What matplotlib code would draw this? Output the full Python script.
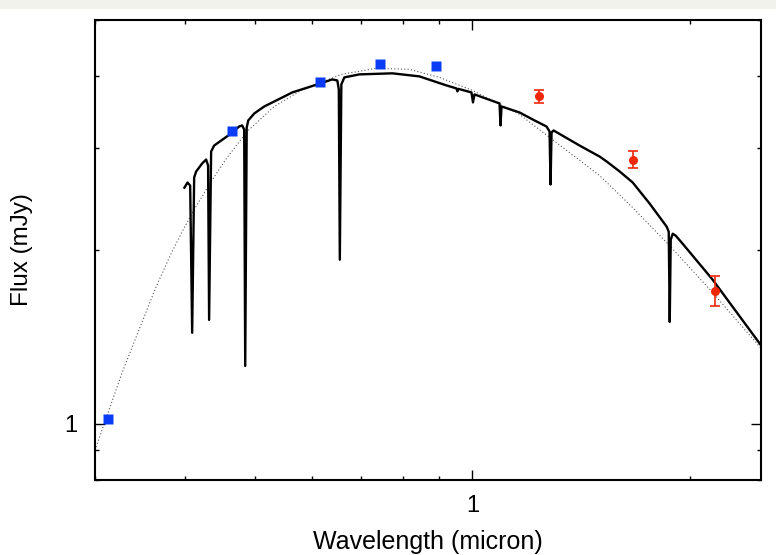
import matplotlib
matplotlib.use('Agg')
import matplotlib.pyplot as plt
from matplotlib import ticker
from matplotlib.patches import Rectangle

plt.rcParams['font.family'] = ['Liberation Sans', 'DejaVu Sans']

# Photometry ================================================================ #
# optical points (blue squares)
opt_wave = [0.3127, 0.4646, 0.6154, 0.7453, 0.8915]
opt_flux = [1.020, 3.207, 3.899, 4.190, 4.157]

# near-IR points with errors (red circles)
ir_wave = [1.235, 1.667, 2.166]
ir_flux = [3.687, 2.868, 1.700]
ir_err = [0.10, 0.095, 0.10]

# Blackbody-like dotted curve =============================================== #
bb_wave = [0.300, 0.3137, 0.3270, 0.3452, 0.3645, 0.3823, 0.3961, 0.4115,
           0.4345, 0.4572, 0.4874, 0.5314, 0.5791, 0.6581, 0.7358, 0.8177,
           0.9000, 1.000, 1.162, 1.279, 1.500, 1.667, 1.876, 2.152, 2.508]
bb_flux = [0.901, 1.057, 1.226, 1.455, 1.727, 1.970, 2.151, 2.349,
           2.627, 2.891, 3.207, 3.543, 3.777, 4.026, 4.125, 4.108,
           3.978, 3.777, 3.432, 3.132, 2.691, 2.368, 2.034, 1.687, 1.354]

# Model spectrum (solid line, with absorption lines) ======================== #
spec_wave = [0.399, 0.403, 0.4064, 0.4090, 0.4116, 0.4142, 0.4221, 0.4276,
             0.4303, 0.4317, 0.4345, 0.4387, 0.4486, 0.4631, 0.4751, 0.4797,
             0.4828, 0.4844, 0.4867, 0.4891, 0.4985, 0.5147, 0.5314, 0.5629,
             0.6095, 0.6394, 0.6498, 0.6529, 0.6550, 0.6582, 0.6645, 0.6971,
             0.7745, 0.8443, 0.9203, 0.9502, 0.9532, 0.9563, 0.9968, 1.0016,
             1.0064, 1.0901, 1.0936, 1.0971, 1.1622, 1.2112, 1.2665, 1.2787,
             1.2828, 1.2869, 1.2951, 1.4075, 1.5002, 1.5345, 1.5995, 1.6672,
             1.7597, 1.8579, 1.8700, 1.8761, 1.8821, 1.8942, 1.9125, 1.9497,
             2.152, 2.508]
spec_flux = [2.564, 2.617, 2.585, 1.438, 2.670, 2.734, 2.822, 2.868,
             2.800, 1.514, 2.961, 3.032, 3.093, 3.181, 3.271, 3.285,
             3.232, 1.260, 3.258, 3.351, 3.445, 3.543, 3.614, 3.747,
             3.868, 3.946, 3.930, 3.792, 1.924, 3.868, 3.978, 4.026,
             4.043, 3.994, 3.853, 3.807, 3.762, 3.800, 3.747, 3.601,
             3.717, 3.586, 3.285, 3.543, 3.459, 3.365, 3.271, 3.207,
             2.596, 3.194, 3.220, 3.032, 2.902, 2.845, 2.734, 2.617,
             2.406, 2.195, 2.151, 1.502, 2.084, 2.134, 2.117, 2.059,
             1.776, 1.370]

# Figure ==================================================================== #
fig = plt.figure(figsize=(7.76, 5.55), dpi=100)
fig.patches.append(Rectangle((0, 1 - 9 / 555), 1, 9 / 555, transform=fig.transFigure,
                             facecolor='#f1f2ec', edgecolor='none', zorder=0))
ax = fig.add_axes([95 / 776, 1 - 480 / 555, 666 / 776, 460 / 555])

ax.plot(bb_wave, bb_flux, color='#555555', lw=0.8, ls=(0, (1, 2)), zorder=1)
ax.plot(spec_wave, spec_flux, color='black', lw=1.7, solid_joinstyle='round', zorder=2)
ax.plot(opt_wave, opt_flux, 's', color='#0a3cf5', ms=6.8, mec='none', zorder=3)
ax.errorbar(ir_wave, ir_flux, yerr=ir_err, fmt='o', color='#f0280a', ms=6.5,
            mec='none', elinewidth=1.2, capsize=3.6, capthick=1.2, zorder=3)

ax.set_xscale('log')
ax.set_yscale('log')
ax.set_xlim(0.3, 2.51)
ax.set_ylim(0.8, 5.0)

for a in (ax.xaxis, ax.yaxis):
    a.set_major_locator(ticker.FixedLocator([1]))
    a.set_major_formatter(ticker.FormatStrFormatter('%g'))
    a.set_minor_locator(ticker.LogLocator(base=10, subs=range(2, 10)))
    a.set_minor_formatter(ticker.NullFormatter())

ax.tick_params(which='both', direction='in', top=True, right=True,
               width=1.0, labelsize=17, colors='black')
ax.tick_params(which='major', length=7)
ax.tick_params(which='minor', length=3)
ax.tick_params(axis='x', which='major', pad=11)
ax.tick_params(axis='y', which='major', pad=13)
for sp in ax.spines.values():
    sp.set_linewidth(1.5)

ax.set_xlabel('Wavelength (micron)', fontsize=18, labelpad=9)
ax.set_ylabel('Flux (mJy)', fontsize=17.5, labelpad=22)

fig.savefig('out.png', dpi=100)
